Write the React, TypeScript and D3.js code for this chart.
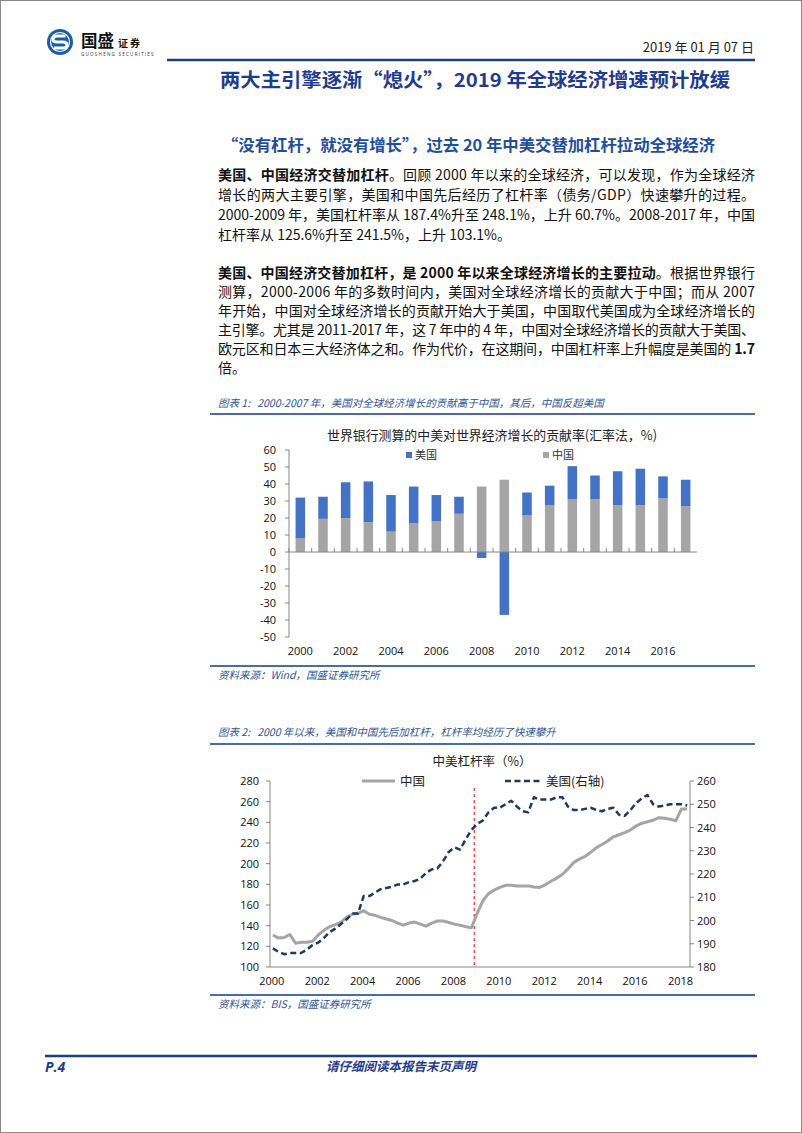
import React from 'react';
import * as d3 from 'd3';

// ---------- Chart 1 data ----------
const barYears = [2000, 2001, 2002, 2003, 2004, 2005, 2006, 2007, 2008, 2009, 2010, 2011, 2012, 2013, 2014, 2015, 2016, 2017];
const chinaContribution = [8, 19.5, 20, 17.5, 12, 17, 18, 22.5, 38.5, 42.5, 21.5, 27.5, 31, 31, 27.5, 27.5, 31.5, 27];
const usContribution = [24, 13, 21, 24, 21.5, 21.5, 15.5, 10, -3.5, -37, 13.5, 11.5, 19.5, 14, 20, 21.5, 13, 15.5];
const barYTicks = [60, 50, 40, 30, 20, 10, 0, -10, -20, -30, -40, -50];
const barXLabels = [2000, 2002, 2004, 2006, 2008, 2010, 2012, 2014, 2016];

// ---------- Chart 2 data (quarterly, 2000Q1 - 2018Q2) ----------
const leverageQuarters = d3.range(0, 74).map((i) => 2000 + i / 4);
const chinaLeverage = [
  131, 128, 128.5, 131.5,
  123, 124, 124, 125,
  131, 135.5, 139, 141,
  143.5, 148, 151, 152,
  154.5, 151, 150, 148,
  146.5, 145, 142.5, 140.5,
  142.5, 143.5, 141.5, 139.5,
  142.5, 144.5, 144.5, 143,
  141.5, 140.5, 139, 138,
  152, 164, 171, 174.5,
  177, 179, 179, 178.5,
  178.5, 178.5, 177.5, 177,
  179.5, 183, 186, 189.5,
  195, 201, 204.5, 207,
  211, 215.5, 218.5, 222,
  226, 228, 230, 232.5,
  236.5, 239, 240.5, 242,
  244.5, 244, 243, 241.5,
  253, 253,
];
const usLeverage = [
  188, 186.5, 185.5, 186,
  186, 186, 187.5, 189.5,
  190.5, 192.5, 195, 196.5,
  198.5, 200.5, 203, 203,
  210.5, 210.5, 212, 213.5,
  214, 214.5, 215.5, 215.5,
  216.5, 217, 218, 220.5,
  222, 222.5, 225.5, 229.5,
  231.5, 230.5, 235, 239,
  241.5, 243, 246.5, 248.5,
  248.5, 250, 251.5, 249,
  247, 246.5, 253, 252,
  252, 252, 253, 253,
  249, 247.5, 247.5, 248,
  248.5, 247.5, 247, 248,
  248.5, 245.5, 245, 247.5,
  250.5, 252.5, 254, 250,
  249, 249.5, 250, 250,
  250, 249.5,
];
const leftTicks = [100, 120, 140, 160, 180, 200, 220, 240, 260, 280];
const rightTicks = [180, 190, 200, 210, 220, 230, 240, 250, 260];
const lineXLabels = [2000, 2002, 2004, 2006, 2008, 2010, 2012, 2014, 2016, 2018];
const markerYear = 2009;

// ---------- Text ----------
type Seg = [string, boolean];
type Line = { segs: Seg[]; justify: boolean };
const para1: Line[] = [
  { segs: [["美国、中国经济交替加杠杆", true], ["。回顾 2000 年以来的全球经济，可以发现，作为全球经济", false]], justify: true },
  { segs: [["增长的两大主要引擎，美国和中国先后经历了杠杆率（债务/GDP）快速攀升的过程。", false]], justify: true },
  { segs: [["2000-2009 年，美国杠杆率从 187.4%升至 248.1%，上升 60.7%。2008-2017 年，中国", false]], justify: true },
  { segs: [["杠杆率从 125.6%升至 241.5%，上升 103.1%。", false]], justify: false },
];
const para2: Line[] = [
  { segs: [["美国、中国经济交替加杠杆，是 2000 年以来全球经济增长的主要拉动", true], ["。根据世界银行", false]], justify: true },
  { segs: [["测算，2000-2006 年的多数时间内，美国对全球经济增长的贡献大于中国；而从 2007", false]], justify: true },
  { segs: [["年开始，中国对全球经济增长的贡献开始大于美国，中国取代美国成为全球经济增长的", false]], justify: true },
  { segs: [["主引擎。尤其是 2011-2017 年，这 7 年中的 4 年，中国对全球经济增长的贡献大于美国、", false]], justify: true },
  { segs: [["欧元区和日本三大经济体之和。作为代价，在这期间，中国杠杆率上升幅度是美国的 ", false], ["1.7", true]], justify: true },
  { segs: [["倍。", false]], justify: false },
];

const FONT = '"Noto Sans CJK SC", "Noto Sans", sans-serif';
const NUMFONT = '"Open Sans", "Noto Sans CJK SC", sans-serif';
const BLUE_BAR = '#4472C4';
const GRAY_BAR = '#A5A5A5';
const NAVY = '#1F3864';
const AXIS = '#868686';
const RULE = '#4A6DA8';
const CAPTION = '#2F5597';

function TextLines({ lines, x, y0, dy, width }: { lines: Line[]; x: number; y0: number; dy: number; width: number }) {
  return (
    <g fontFamily={FONT} fontSize={14} fill="#111">
      {lines.map((ln, i) => (
        <text key={i} x={x} y={y0 + i * dy} textLength={ln.justify ? width : undefined} lengthAdjust="spacing" style={{ whiteSpace: 'pre' }}>
          {ln.segs.map(([t, b], k) => (
            <tspan key={k} fontWeight={b ? 700 : 400}>{t}</tspan>
          ))}
        </text>
      ))}
    </g>
  );
}

function BarChart() {
  const x = d3.scaleBand<number>().domain(barYears).range([289, 697]).paddingInner(0.58).paddingOuter(0.29);
  const y = d3.scaleLinear().domain([-50, 60]).range([637, 450]);
  const y0 = y(0);
  const step = x.step();
  return (
    <g>
      <text x={327} y={440} fontFamily={FONT} fontSize={13} fill="#222" textLength={330} lengthAdjust="spacingAndGlyphs">世界银行测算的中美对世界经济增长的贡献率(汇率法，%)</text>
      {/* legend */}
      <rect x={406} y={452} width={6} height={6} fill={BLUE_BAR} />
      <text x={415} y={459} fontFamily={FONT} fontSize={11} fill="#333">美国</text>
      <rect x={543} y={452} width={6} height={6} fill={GRAY_BAR} />
      <text x={552} y={459} fontFamily={FONT} fontSize={11} fill="#333">中国</text>
      {/* bars */}
      {barYears.map((yr, i) => {
        const c = chinaContribution[i];
        const u = usContribution[i];
        const bx = x(yr)!;
        const bw = x.bandwidth();
        return (
          <g key={yr}>
            <rect x={bx} y={y(c)} width={bw} height={y0 - y(c)} fill={GRAY_BAR} />
            {u >= 0 ? (
              <rect x={bx} y={y(c + u)} width={bw} height={y(c) - y(c + u)} fill={BLUE_BAR} />
            ) : (
              <rect x={bx} y={y0} width={bw} height={y(u) - y0} fill={BLUE_BAR} />
            )}
          </g>
        );
      })}
      {/* axes */}
      <line x1={289} x2={289} y1={y(60)} y2={y(-50)} stroke={AXIS} strokeWidth={1} />
      {barYTicks.map((t) => (
        <g key={t}>
          <line x1={285} x2={289} y1={y(t)} y2={y(t)} stroke={AXIS} />
          <text x={276} y={y(t) + 4} textAnchor="end" fontFamily={NUMFONT} fontSize={11} fill="#111">{t}</text>
        </g>
      ))}
      <line x1={289} x2={697} y1={y0} y2={y0} stroke={AXIS} strokeWidth={1} />
      {barYears.map((yr) => (
        <line key={yr} x1={x(yr)! - (step - x.bandwidth()) / 2} x2={x(yr)! - (step - x.bandwidth()) / 2} y1={y0 - 4} y2={y0} stroke={AXIS} />
      ))}
      {barXLabels.map((yr) => (
        <text key={yr} x={x(yr)! + x.bandwidth() / 2} y={655} textAnchor="middle" fontFamily={NUMFONT} fontSize={11} fill="#111">{yr}</text>
      ))}
    </g>
  );
}

function LineChart() {
  const x = d3.scaleLinear().domain([2000, 2018.5]).range([270, 690]);
  const yL = d3.scaleLinear().domain([100, 280]).range([967, 781]);
  const yR = d3.scaleLinear().domain([180, 260]).range([967, 781]);
  const px = (i: number) => x(leverageQuarters[i] + 0.125);
  const chinaPath = d3.line<number>().x((_, i) => px(i)).y((d) => yL(d))(chinaLeverage)!;
  const usPath = d3.line<number>().x((_, i) => px(i)).y((d) => yR(d))(usLeverage)!;
  return (
    <g>
      <text x={482} y={766} textAnchor="middle" fontFamily={FONT} fontSize={12.5} fill="#222">中美杠杆率（%）</text>
      {/* legend */}
      <line x1={362} x2={395} y1={781} y2={781} stroke={GRAY_BAR} strokeWidth={3} />
      <text x={400} y={786} fontFamily={FONT} fontSize={12.5} fill="#222">中国</text>
      <line x1={505} x2={543} y1={781} y2={781} stroke={NAVY} strokeWidth={2.5} strokeDasharray="6,3.5" />
      <text x={546} y={786} fontFamily={FONT} fontSize={12.5} fill="#222">美国(右轴)</text>
      {/* axes */}
      <line x1={270} x2={270} y1={781} y2={967} stroke={AXIS} />
      <line x1={690} x2={690} y1={781} y2={967} stroke={AXIS} />
      <line x1={270} x2={690} y1={967} y2={967} stroke={AXIS} />
      {leftTicks.map((t) => (
        <g key={t}>
          <line x1={266} x2={270} y1={yL(t)} y2={yL(t)} stroke={AXIS} />
          <text x={259} y={yL(t) + 4} textAnchor="end" fontFamily={NUMFONT} fontSize={11} fill="#111">{t}</text>
        </g>
      ))}
      {rightTicks.map((t) => (
        <g key={t}>
          <line x1={690} x2={694} y1={yR(t)} y2={yR(t)} stroke={AXIS} />
          <text x={697} y={yR(t) + 4} textAnchor="start" fontFamily={NUMFONT} fontSize={11} fill="#111">{t}</text>
        </g>
      ))}
      {lineXLabels.map((yr) => (
        <text key={yr} x={x(yr + 0.08)} y={985} textAnchor="middle" fontFamily={NUMFONT} fontSize={11} fill="#111">{yr}</text>
      ))}
      {/* marker line */}
      <line x1={x(markerYear)} x2={x(markerYear)} y1={788} y2={967} stroke="#FF4D4D" strokeWidth={1.5} strokeDasharray="3,3" />
      <path d={chinaPath} fill="none" stroke={GRAY_BAR} strokeWidth={3} strokeLinejoin="round" />
      <path d={usPath} fill="none" stroke={NAVY} strokeWidth={2.5} strokeDasharray="6,3.5" strokeLinejoin="round" />
    </g>
  );
}

export default function App() {
  return (
    <svg width={802} height={1133} style={{ position: 'absolute', left: 0, top: 0, background: '#fff' }}>
      <rect x={0.5} y={0.5} width={801} height={1132} fill="#fff" stroke="#8a8a8a" />
      {/* logo */}
      <circle cx={60} cy={42} r={13} fill="#1A5CA8" />
      <circle cx={60} cy={42} r={9.5} fill="none" stroke="#fff" strokeWidth={1.2} />
      <path d="M 65.5 36 H 57 Q 53 36 53 39.5 Q 53 42 57 42 H 63 Q 67 42 67 45 Q 67 48 63 48 H 54" fill="none" stroke="#fff" strokeWidth={3} />
      <text x={81} y={47} fontFamily={FONT} fontWeight={700} fontSize={16.5} fill="#111">国盛</text>
      <text x={118} y={47} fontFamily={FONT} fontWeight={700} fontSize={10} fill="#111" letterSpacing={2}>证券</text>
      <text x={81} y={56} fontFamily={NUMFONT} fontSize={4.6} fill="#333" letterSpacing={1.2}>GUOSHENG SECURITIES</text>
      {/* date */}
      <text x={754} y={52} textAnchor="end" fontFamily={FONT} fontSize={13} fill="#222">2019 年 01 月 07 日</text>
      <line x1={167} x2={755} y1={60} y2={60} stroke="#1F3D7A" strokeWidth={2.5} />
      {/* title */}
      <text x={220} y={87} fontFamily={FONT} fontWeight={700} fontSize={19} fill="#1F3D8F" textLength={510} lengthAdjust="spacingAndGlyphs">两大主引擎逐渐“熄火”，2019 年全球经济增速预计放缓</text>
      {/* heading */}
      <text x={222} y={151} fontFamily={FONT} fontWeight={700} fontSize={16} fill="#1F4E9C" textLength={493} lengthAdjust="spacingAndGlyphs">“没有杠杆，就没有增长”，过去 20 年中美交替加杠杆拉动全球经济</text>
      <TextLines lines={para1} x={218} y0={180} dy={20} width={537} />
      <TextLines lines={para2} x={218} y0={278} dy={19} width={537} />
      {/* figure 1 */}
      <text x={218} y={407} fontFamily={FONT} fontSize={10.5} fontStyle="italic" fill={CAPTION} style={{ whiteSpace: 'pre' }}>图表 1:   2000-2007 年，美国对全球经济增长的贡献高于中国，其后，中国反超美国</text>
      <line x1={210} x2={755} y1={414} y2={414} stroke={RULE} strokeWidth={2} />
      <BarChart />
      <line x1={210} x2={755} y1={666} y2={666} stroke={RULE} strokeWidth={2} />
      <text x={218} y={679} fontFamily={FONT} fontSize={10.5} fontStyle="italic" fill={CAPTION}>资料来源：Wind，国盛证券研究所</text>
      {/* figure 2 */}
      <text x={218} y={736} fontFamily={FONT} fontSize={10.5} fontStyle="italic" fill={CAPTION} style={{ whiteSpace: 'pre' }}>图表 2:   2000 年以来，美国和中国先后加杠杆，杠杆率均经历了快速攀升</text>
      <line x1={210} x2={755} y1={744} y2={744} stroke={RULE} strokeWidth={2} />
      <LineChart />
      <line x1={210} x2={755} y1={995} y2={995} stroke={RULE} strokeWidth={2} />
      <text x={218} y={1008} fontFamily={FONT} fontSize={10.5} fontStyle="italic" fill={CAPTION}>资料来源：BIS，国盛证券研究所</text>
      {/* footer */}
      <line x1={45} x2={757} y1={1056} y2={1056} stroke="#1F3D7A" strokeWidth={2.5} />
      <text x={45} y={1072} fontFamily={NUMFONT} fontWeight={700} fontStyle="italic" fontSize={14} fill="#1F3D8F">P.4</text>
      <text x={401} y={1071} textAnchor="middle" fontFamily={FONT} fontWeight={700} fontStyle="italic" fontSize={12.5} fill="#1F3D8F">请仔细阅读本报告末页声明</text>
    </svg>
  );
}
